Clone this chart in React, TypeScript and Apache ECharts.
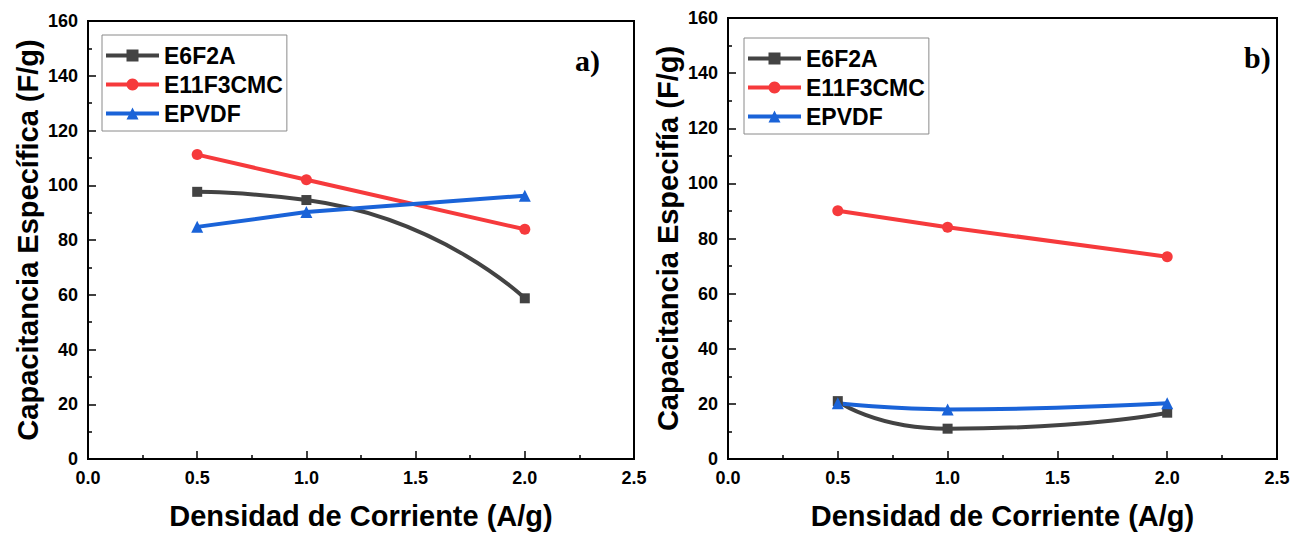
import React, { useEffect, useRef } from "react";
import * as echarts from "echarts";

const xVals = [0.5, 1.0, 2.0];
const seriesNames = ["E6F2A", "E11F3CMC", "EPVDF"];
const aE6F2A = [97.6, 94.6, 58.7];
const aE11F3CMC = [111.2, 102.0, 83.9];
const aEPVDF = [84.8, 90.2, 96.2];
const bE6F2A = [21.0, 11.0, 16.8];
const bE11F3CMC = [90.1, 84.1, 73.4];
const bEPVDF = [20.2, 18.0, 20.2];
const xTitle = "Densidad de Corriente (A/g)";
const yTitleA = "Capacitancia Específica (F/g)";
const yTitleB = "Capacitancia Especifía (F/g)";
const panelLabels = ["a)", "b)"];

const GRAY = "#434343";
const RED = "#f63a3c";
const BLUE = "#1a63d8";
const SANS = "'Liberation Sans', Arial, sans-serif";
const SERIF = "'Liberation Serif', 'Times New Roman', serif";

const pairs = (ys: number[]) => xVals.map((x, i) => [x, ys[i]]);

function mkX(gridIndex: number) {
  return {
    type: "value",
    gridIndex,
    min: 0,
    max: 2.5,
    interval: 0.5,
    name: xTitle,
    nameLocation: "middle",
    nameGap: 42,
    nameTextStyle: { fontFamily: SANS, fontWeight: "bold", fontSize: 29, color: "#000" },
    axisLine: { show: true, onZero: false, lineStyle: { color: "#000", width: 2 } },
    axisTick: { show: true, inside: true, length: 8, lineStyle: { color: "#000", width: 1.5 } },
    minorTick: { show: true, splitNumber: 2, length: 4, lineStyle: { color: "#000", width: 1.5 } },
    splitLine: { show: false },
    axisLabel: {
      fontFamily: SANS,
      fontWeight: "bold",
      fontSize: 18,
      color: "#000",
      margin: 10,
      formatter: (v: number) => v.toFixed(1),
    },
  };
}

function mkY(gridIndex: number, title: string) {
  return {
    type: "value",
    gridIndex,
    min: 0,
    max: 160,
    interval: 20,
    name: title,
    nameLocation: "middle",
    nameGap: 46,
    nameTextStyle: { fontFamily: SANS, fontWeight: "bold", fontSize: 29, color: "#000" },
    axisLine: { show: true, onZero: false, lineStyle: { color: "#000", width: 2 } },
    axisTick: { show: true, inside: true, length: 8, lineStyle: { color: "#000", width: 1.5 } },
    minorTick: { show: true, splitNumber: 2, length: 4, lineStyle: { color: "#000", width: 1.5 } },
    splitLine: { show: false },
    axisLabel: { fontFamily: SANS, fontWeight: "bold", fontSize: 18, color: "#000", margin: 10 },
  };
}

function mkSeries(idx: number, name: string, ys: number[], color: string, symbol: string, size: number, smooth: boolean | number) {
  return {
    type: "line",
    name,
    xAxisIndex: idx,
    yAxisIndex: idx,
    data: pairs(ys),
    smooth,
    symbol,
    symbolSize: size,
    showAllSymbol: true,
    lineStyle: { color, width: 4 },
    itemStyle: { color },
    z: 3,
  };
}

function mkLegend(left: number, top: number) {
  return {
    left,
    top,
    orient: "vertical",
    data: seriesNames,
    itemWidth: 53,
    itemHeight: 15,
    itemGap: 6,
    padding: [9, 4, 6, 2],
    borderColor: "#8a8a8a",
    borderWidth: 1,
    backgroundColor: "#fff",
    selectedMode: false,
    lineStyle: { width: 4 },
    textStyle: { fontFamily: SANS, fontWeight: "bold", fontSize: 23, color: "#000", lineHeight: 23 },
  };
}

export default function App() {
  const ref = useRef<HTMLDivElement>(null);
  useEffect(() => {
    if (!ref.current) return;
    const chart = echarts.init(ref.current, undefined, { renderer: "svg" });
    chart.setOption({
      animation: false,
      backgroundColor: "#fff",
      grid: [
        { left: 88, top: 21, width: 546, height: 440.5, show: true, borderColor: "#000", borderWidth: 2, backgroundColor: "transparent" },
        { left: 728, top: 18, width: 549, height: 443.5, show: true, borderColor: "#000", borderWidth: 2, backgroundColor: "transparent" },
      ],
      xAxis: [mkX(0), mkX(1)],
      yAxis: [mkY(0, yTitleA), mkY(1, yTitleB)],
      legend: [mkLegend(102, 35), mkLegend(744, 38)],
      series: [
        mkSeries(0, seriesNames[0], aE6F2A, GRAY, "rect", 10, 0.6),
        mkSeries(0, seriesNames[1], aE11F3CMC, RED, "circle", 11, false),
        mkSeries(0, seriesNames[2], aEPVDF, BLUE, "triangle", 12, false),
        mkSeries(1, seriesNames[0], bE6F2A, GRAY, "rect", 10, 0.65),
        mkSeries(1, seriesNames[1], bE11F3CMC, RED, "circle", 11, false),
        mkSeries(1, seriesNames[2], bEPVDF, BLUE, "triangle", 12, 0.5),
      ],
      graphic: [
        {
          type: "text",
          left: 575,
          top: 45,
          style: { text: panelLabels[0], font: `bold 30px ${SERIF}`, fill: "#000" },
        },
        {
          type: "text",
          left: 1244,
          top: 42,
          style: { text: panelLabels[1], font: `bold 30px ${SERIF}`, fill: "#000" },
        },
      ],
    });
    return () => chart.dispose();
  }, []);
  return <div ref={ref} style={{ position: "fixed", left: 0, top: 0, width: 1301, height: 535 }} />;
}
